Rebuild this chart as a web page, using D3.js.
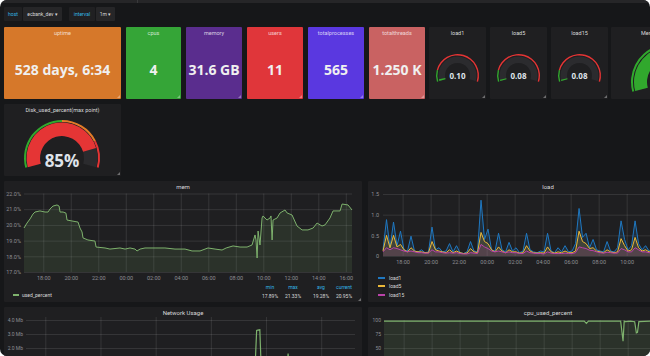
<!DOCTYPE html>
<html><head><meta charset="utf-8">
<script src="https://cdn.jsdelivr.net/npm/d3@7"></script>
<style>
html,body{margin:0;padding:0;background:#ffffff;}
#wrap{width:650px;height:356px;border-radius:7px;overflow:hidden;background:#161719;}
svg{display:block;font-family:Roboto,"Open Sans",sans-serif;}
</style></head>
<body><div id="wrap"><svg id="c" width="650" height="356"></svg></div>
<script>
// ---------------- DATA ----------------
const varLabels = ["host", "interval"];
const varValues = ["ecbank_dev ▾", "1m ▾"];

const statTitles = ["uptime", "cpus", "memory", "users", "totalprocesses", "totalthreads"];
const statValues = ["528 days, 6:34", "4", "31.6 GB", "11", "565", "1.250 K"];

const loadGaugeTitles = ["load1", "load5", "load15"];
const loadGaugeValues = [0.10, 0.08, 0.08];
const loadGaugeMax = 4;
const loadGaugeThresholds = [0.6];

const diskGaugeTitle = "Disk_used_percent(max point)";
const diskGaugeValue = 85;
const diskGaugeThresholds = [50, 80];

const memGaugeTitle = "Mem_used_percent";
const memGaugeValue = 42;
const memGaugeThresholds = [80, 90];

// time axis (hours since start of range)
const timeSpan = 23.85;
const timeTickHours = [1.4, 3.4, 5.4, 7.4, 9.4, 11.4, 13.4, 15.4, 17.4, 19.4, 21.4, 23.4];
const timeTickLabels = ["18:00","20:00","22:00","00:00","02:00","04:00","06:00","08:00","10:00","12:00","14:00","16:00"];

// mem used_percent
const memTimes = [0,0.22,0.44,0.65,0.8,1.16,1.53,1.75,1.89,2.11,2.4,2.55,2.62,2.84,3.05,3.13,3.49,3.93,4.07,4.22,4.29,4.65,5.16,5.24,5.89,6.25,6.98,7.35,7.71,8.07,8.22,8.44,8.8,9.53,10.25,10.98,11.71,12.22,12.8,13.38,13.89,14.4,14.7,15.2,15.71,16.22,16.58,16.8,16.87,16.95,17.02,17.16,17.31,17.38,17.67,17.89,17.96,18.04,18.11,18.4,18.62,18.98,19.13,19.49,19.85,20.22,20.65,21.02,21.31,21.53,21.67,21.89,22.25,22.47,22.98,23.13,23.56,23.85];
const memValues = [19.80,20.12,20.38,20.69,20.82,20.89,20.82,20.82,21.01,21.20,21.27,21.20,20.82,20.82,20.75,20.31,20.25,20.18,19.80,19.55,19.17,19.04,18.97,18.59,18.53,18.46,18.53,18.46,18.53,18.46,18.34,18.46,18.53,18.53,18.53,18.46,18.46,18.34,18.34,18.53,18.46,18.40,18.53,18.66,18.59,18.59,18.72,19.36,19.04,17.89,19.61,18.72,20.44,20.57,20.31,20.44,20.57,19.04,20.31,20.44,20.76,20.95,20.76,20.63,19.93,19.68,19.68,19.80,20.12,20.00,19.93,20.00,20.44,20.89,20.89,21.33,21.27,20.95];
const memLegendName = "used_percent";
const memStatHeaders = ["min", "max", "avg", "current"];
const memStatValues = ["17.89%", "21.33%", "19.28%", "20.95%"];
const memYTicks = [17, 18, 19, 20, 21, 22];

// load series (one sample every 15 minutes)
const loadStep = 0.25;
const load1 = [0.15,0.88,0.2,0.82,0.25,0.6,0.15,0.12,0.48,0.12,0.1,0.15,0.08,0.1,0.7,0.15,0.2,0.1,0.12,0.3,0.1,0.25,0.08,0.06,0.1,0.35,0.12,0.1,1.35,0.4,0.65,0.15,0.12,0.55,0.15,0.1,0.33,0.12,0.2,0.08,0.12,0.55,0.15,0.1,0.08,0.12,0.1,0.55,0.12,0.08,0.2,0.1,0.25,0.1,0.12,0.3,1.15,0.45,0.55,0.2,0.4,0.15,0.12,0.1,0.35,0.12,0.1,0.2,0.85,0.4,0.15,0.25,0.85,0.3,0.15,0.25,0.12,0.2,0.1,0.6,0.15,0.12,0.3,0.1];
const load5 = [0.12,0.5,0.2,0.5,0.22,0.28,0.15,0.1,0.2,0.12,0.1,0.1,0.08,0.08,0.35,0.15,0.12,0.1,0.08,0.15,0.08,0.12,0.08,0.06,0.07,0.18,0.1,0.08,0.57,0.35,0.3,0.15,0.1,0.22,0.12,0.08,0.15,0.1,0.1,0.07,0.08,0.25,0.12,0.08,0.07,0.08,0.07,0.22,0.1,0.07,0.1,0.08,0.12,0.08,0.08,0.12,0.6,0.35,0.3,0.18,0.2,0.12,0.1,0.08,0.15,0.1,0.08,0.1,0.42,0.25,0.12,0.15,0.45,0.2,0.12,0.15,0.1,0.12,0.08,0.3,0.12,0.1,0.15,0.08];
const load15 = [0.1,0.2,0.15,0.2,0.18,0.15,0.12,0.1,0.12,0.1,0.08,0.08,0.07,0.07,0.15,0.1,0.1,0.08,0.07,0.08,0.07,0.08,0.06,0.05,0.05,0.08,0.07,0.06,0.28,0.22,0.18,0.12,0.1,0.12,0.1,0.08,0.1,0.08,0.08,0.06,0.06,0.12,0.08,0.07,0.06,0.06,0.05,0.1,0.07,0.06,0.06,0.06,0.07,0.06,0.06,0.08,0.22,0.2,0.18,0.14,0.13,0.1,0.08,0.07,0.09,0.08,0.07,0.07,0.18,0.15,0.1,0.1,0.2,0.15,0.1,0.1,0.08,0.08,0.07,0.14,0.1,0.08,0.09,0.07];
const loadNames = ["load1", "load5", "load15"];
const loadYTicks = [0, 0.5, 1.0, 1.5];

// network usage (Mb)
const netTimes = [0,2,4,6,8,10,12,14,16,16.6,16.72,16.8,16.95,17.05,17.4,18,18.9,19.0,19.1,20,22,23.85];
const netValues = [0.4,0.35,0.4,0.3,0.35,0.3,0.4,0.35,0.4,0.5,3.25,3.28,3.3,0.6,0.4,0.4,0.5,1.6,0.5,0.4,0.35,0.4];
const netYTicks = [2, 3, 4];

// cpu used percent
const cpuTimes = [0,2,4,6,8,10,12,14.3,14.45,14.6,16.9,17.07,17.15,17.25,17.6,17.9,18.02,18.1,18.2,19,20,23.85];
const cpuValues = [98,98,98,98,98,98,98,98,94,98,98,62,98,97,98,97,77,78,97,98,98,98];
const cpuYTicks = [50, 75, 100];

// ---------------- STYLE ----------------
const statColors = ["#d6782a", "#35a537", "#5a2d8e", "#e0363a", "#5a38e0", "#c96262"];
const C_PANEL = "#1f1f21", C_TEXT = "#d8d9da", C_AXIS = "#8e8e94";
const C_GRID = "rgba(255,255,255,0.10)";
const C_GREEN = "rgba(50,172,45,0.97)", C_ORANGE = "rgba(237,129,40,0.95)", C_RED = "rgba(245,54,54,0.92)";
const loadColors = ["#1f78c1", "#eab839", "#ba43a9"];
const VIEW_W = 650;

const svg = d3.select("#c");

function rect(x, y, w, h, fill, rx) {
  return svg.append("rect").attr("x", x).attr("y", y).attr("width", w).attr("height", h)
    .attr("fill", fill).attr("rx", rx || 0);
}
function text(x, y, s, size, fill, anchor, weight, family) {
  return svg.append("text").attr("x", x).attr("y", y).text(s)
    .attr("font-size", size).attr("fill", fill).attr("text-anchor", anchor || "middle")
    .attr("font-weight", weight || "normal").attr("font-family", family || null);
}
function handle(x2, y2) {
  svg.append("path").attr("d", `M${x2-4},${y2-1}L${x2-1},${y2-4}L${x2-1},${y2-1}Z`)
    .attr("fill", "rgba(255,255,255,0.35)");
}

// top strip
rect(0, 0, 650, 3, "#262628");
svg.append("line").attr("x1", 137.5).attr("x2", 137.5).attr("y1", 0).attr("y2", 3).attr("stroke", "#3a3a3c");

// variable selectors
const varBoxes = [[4, 18, 23, 39], [69, 26, 96, 19]];
varLabels.forEach((lab, i) => {
  const b = varBoxes[i];
  rect(b[0], 7, b[1], 14, "#202022", 1);
  text(b[0] + b[1] / 2, 16, lab, 5, "#33b5e5");
  rect(b[2], 7, b[3], 14, "#262628", 1);
  text(b[2] + b[3] / 2, 16, varValues[i], 5, C_TEXT);
});

// stat panels
const statX = [4, 126, 186, 247, 308, 369];
const statW = [117, 55, 56, 56, 56, 56];
statTitles.forEach((t, i) => {
  rect(statX[i], 27, statW[i], 72, statColors[i], 1);
  text(statX[i] + statW[i] / 2, 35, t, 5.5, "rgba(255,255,255,0.75)");
  text(statX[i] + statW[i] / 2, 75, statValues[i], 14, "#f0f0f0", "middle", "bold", "'Open Sans'");
  handle(statX[i] + statW[i], 99);
});

// gauge helper
function gauge(cx, cy, r, thin, bandOuter, bandInner, half, value, min, max, thresholds, colors, valueText, fsize, tyOff) {
  const a = d3.scaleLinear().domain([min, max]).range([-half, half]).clamp(true);
  const g = svg.append("g").attr("transform", `translate(${cx},${cy})`);
  const arc = d3.arc();
  const bounds = [min, ...thresholds, max];
  for (let i = 0; i < bounds.length - 1; i++) {
    g.append("path").attr("d", arc({innerRadius: r - thin, outerRadius: r, startAngle: a(bounds[i]), endAngle: a(bounds[i + 1])}))
      .attr("fill", colors[i]);
  }
  g.append("path").attr("d", arc({innerRadius: bandInner, outerRadius: bandOuter, startAngle: a(min), endAngle: a(max)}))
    .attr("fill", "#2b2b2e");
  let ci = 0;
  thresholds.forEach((t, i) => { if (value >= t) ci = i + 1; });
  g.append("path").attr("d", arc({innerRadius: bandInner, outerRadius: bandOuter, startAngle: a(min), endAngle: a(value)}))
    .attr("fill", colors[ci]);
  if (cx < VIEW_W) {
    g.append("text").attr("x", 0).attr("y", tyOff).text(valueText).attr("text-anchor", "middle")
      .attr("font-size", fsize).attr("font-weight", "bold").attr("fill", "#dfe3ea").attr("font-family", "'Open Sans'");
  }
}
const DEG = Math.PI / 180;

// load gauges
const lgX = [429, 490, 551];
loadGaugeTitles.forEach((t, i) => {
  rect(lgX[i], 27, 57, 72, C_PANEL, 1);
  text(lgX[i] + 28.5, 35, t, 5.5, C_TEXT);
  gauge(lgX[i] + 28.5, 75.5, 21.5, 1.4, 19, 12.5, 107 * DEG, loadGaugeValues[i], 0, loadGaugeMax,
    loadGaugeThresholds, [C_GREEN, C_RED], loadGaugeValues[i].toFixed(2), 8, 3.5);
  handle(lgX[i] + 57, 99);
});

// mem gauge (partially visible, panel continues past the right edge)
rect(611, 27, 116, 72, C_PANEL, 1);
text(641, 35, memGaugeTitle, 5.5, C_TEXT, "start");
gauge(669, 82, 38, 2, 35, 22, 105 * DEG, memGaugeValue, 0, 100, memGaugeThresholds, [C_GREEN, C_ORANGE, C_RED],
  memGaugeValue + "%", 17, 9);

// disk gauge
rect(4, 104, 117, 72, C_PANEL, 1);
text(62.5, 112, diskGaugeTitle, 5.5, C_TEXT);
gauge(62, 158, 38, 2, 35.5, 22, 105 * DEG, diskGaugeValue, 0, 100, diskGaugeThresholds, [C_GREEN, C_ORANGE, C_RED],
  diskGaugeValue + "%", 17, 9);
handle(121, 176);

// ---------- graph helpers ----------
function styleAxis(g, fontSize) {
  g.select(".domain").remove();
  g.selectAll(".tick line").attr("stroke", C_GRID).attr("stroke-width", 1);
  g.selectAll(".tick text").attr("fill", C_AXIS).attr("font-size", fontSize || 5.5).attr("font-family", "Roboto");
}

// ---------- mem panel ----------
rect(4, 181, 358, 121, C_PANEL, 1);
text(183, 189, "mem", 6, C_TEXT);
const memX = d3.scaleLinear().domain([0, timeSpan]).range([24, 352]);
const memY = d3.scaleLinear().domain([17, 22]).range([272, 193.5]);
svg.append("g").attr("transform", "translate(24,0)")
  .call(d3.axisLeft(memY).tickValues(memYTicks).tickFormat(d => d.toFixed(1) + "%").tickSize(-328).tickPadding(3))
  .call(g => styleAxis(g, 5.5));
svg.append("g").attr("transform", "translate(0,272)")
  .call(d3.axisBottom(memX).tickValues(timeTickHours).tickFormat((d, i) => timeTickLabels[i]).tickSize(-78.5).tickPadding(4))
  .call(g => styleAxis(g, 5.5));
const memPts = memTimes.map((t, i) => [t, memValues[i]]);
svg.append("path").datum(memPts)
  .attr("d", d3.area().x(d => memX(d[0])).y0(memY(17)).y1(d => memY(d[1])))
  .attr("fill", "rgba(126,178,109,0.13)");
svg.append("path").datum(memPts)
  .attr("d", d3.line().x(d => memX(d[0])).y(d => memY(d[1])))
  .attr("fill", "none").attr("stroke", "#7eb26d").attr("stroke-width", 1);
svg.append("line").attr("x1", 13).attr("x2", 19).attr("y1", 295).attr("y2", 295).attr("stroke", "#7eb26d").attr("stroke-width", 2);
text(22, 297, memLegendName, 5, C_TEXT, "start");
const memStatX = [270, 293, 321, 344];
memStatHeaders.forEach((h, i) => {
  text(memStatX[i], 289, h, 5, "#33b5e5");
  text(memStatX[i], 297.5, memStatValues[i], 5, C_TEXT);
});
handle(362, 302);

// ---------- load panel ----------
rect(368, 181, 360, 121, C_PANEL, 1);
text(548, 189, "load", 6, C_TEXT);
const loadX = d3.scaleLinear().domain([0, timeSpan]).range([383, 717]);
const loadY = d3.scaleLinear().domain([0, 1.5]).range([256, 194]);
svg.append("g").attr("transform", "translate(383,0)")
  .call(d3.axisLeft(loadY).tickValues(loadYTicks).tickFormat(d => d === 0 ? "0" : d.toFixed(1)).tickSize(-334).tickPadding(4))
  .call(g => styleAxis(g, 5.5));
svg.append("g").attr("transform", "translate(0,256)")
  .call(d3.axisBottom(loadX).tickValues(timeTickHours)
    .tickFormat((d, i) => loadX(d) + 8 < VIEW_W ? timeTickLabels[i] : "").tickSize(-62).tickPadding(4))
  .call(g => styleAxis(g, 5.5));
[load1, load5, load15].forEach((series, k) => {
  const pts = series.map((v, i) => [i * loadStep, v]);
  svg.append("path").datum(pts)
    .attr("d", d3.area().x(d => loadX(d[0])).y0(loadY(0)).y1(d => loadY(d[1])))
    .attr("fill", loadColors[k]).attr("fill-opacity", 0.16);
  svg.append("path").datum(pts)
    .attr("d", d3.line().x(d => loadX(d[0])).y(d => loadY(d[1])))
    .attr("fill", "none").attr("stroke", loadColors[k]).attr("stroke-width", 1);
});
const legY = [278, 286, 295];
loadNames.forEach((n, k) => {
  svg.append("line").attr("x1", 378).attr("x2", 385).attr("y1", legY[k]).attr("y2", legY[k])
    .attr("stroke", loadColors[k]).attr("stroke-width", 2);
  text(389, legY[k] + 2, n, 5, C_TEXT, "start");
});

// ---------- network panel ----------
rect(4, 307, 358, 60, C_PANEL, 1);
text(183, 315, "Network Usage", 6, C_TEXT);
const netX = d3.scaleLinear().domain([0, timeSpan]).range([26, 355]);
const netY = d3.scaleLinear().domain([0, 4.2]).range([376, 317.2]);
svg.append("g").attr("transform", "translate(26,0)")
  .call(d3.axisLeft(netY).tickValues(netYTicks).tickFormat(d => d.toFixed(1) + " Mb").tickSize(-329).tickPadding(3))
  .call(g => styleAxis(g, 5));
svg.append("g").attr("transform", "translate(0,376)")
  .call(d3.axisBottom(netX).tickValues(timeTickHours.filter((d, i) => i % 2 === 0)).tickFormat("").tickSize(-59))
  .call(g => styleAxis(g, 5));
svg.append("path").datum(netTimes.map((t, i) => [t, netValues[i]]))
  .attr("d", d3.line().x(d => netX(d[0])).y(d => netY(d[1])))
  .attr("fill", "none").attr("stroke", "#7eb26d").attr("stroke-width", 1.2);

// ---------- cpu panel ----------
rect(368, 307, 360, 60, C_PANEL, 1);
text(548, 315, "cpu_used_percent", 6, C_TEXT);
const cpuX = d3.scaleLinear().domain([0, timeSpan]).range([384, 718]);
const cpuY = d3.scaleLinear().domain([0, 100]).range([376, 320]);
svg.append("g").attr("transform", "translate(384,0)")
  .call(d3.axisLeft(cpuY).tickValues(cpuYTicks).tickFormat(d => d).tickSize(-334).tickPadding(3))
  .call(g => styleAxis(g, 5));
svg.append("g").attr("transform", "translate(0,376)")
  .call(d3.axisBottom(cpuX).tickValues(timeTickHours).tickFormat("").tickSize(-56))
  .call(g => styleAxis(g, 5));
const cpuPts = cpuTimes.map((t, i) => [t, cpuValues[i]]);
svg.append("path").datum(cpuPts)
  .attr("d", d3.area().x(d => cpuX(d[0])).y0(cpuY(0)).y1(d => cpuY(d[1])))
  .attr("fill", "rgba(126,178,109,0.13)");
svg.append("path").datum(cpuPts)
  .attr("d", d3.line().x(d => cpuX(d[0])).y(d => cpuY(d[1])))
  .attr("fill", "none").attr("stroke", "#7eb26d").attr("stroke-width", 1.2);
</script></body></html>
